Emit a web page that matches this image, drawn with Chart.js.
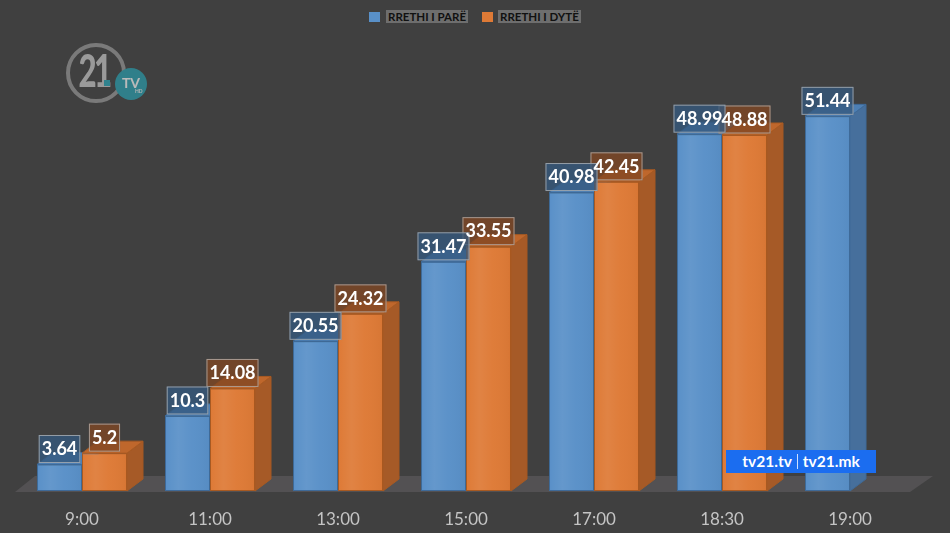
<!DOCTYPE html>
<html>
<head>
<meta charset="utf-8">
<script src="https://cdn.jsdelivr.net/npm/chart.js@4.4.1/dist/chart.umd.min.js"></script>
<style>
  html, body { margin: 0; padding: 0; background: #404040; }
  #wrap { position: relative; width: 950px; height: 533px; overflow: hidden; background: #404040; }
  #chart { position: absolute; left: 0; top: 0; }
  .legend { position: absolute; top: 10px; left: 0; width: 950px; height: 14px; font: bold 11.5px Lato, sans-serif; color: #111; }
  .legend .sw { position: absolute; top: 2px; width: 11px; height: 10px; }
  .legend .tx { position: absolute; top: 0; height: 13px; line-height: 14px; background: #6e6e6e; padding: 0 2px; white-space: nowrap; }
  .logo { position: absolute; left: 0; top: 0; opacity: 0.75; }
  .logo .ring { position: absolute; left: 66px; top: 43px; width: 52px; height: 52px; border: 4px solid #8e8e8e; border-radius: 50%; }
  .logo .num { position: absolute; left: 62px; top: 42px; width: 64px; text-align: center; font: 900 46px Lato, sans-serif; letter-spacing: -4px; color: #b9b9b9; transform: scaleX(0.68); }
  .logo .dot { position: absolute; left: 104px; top: 80px; width: 6px; height: 6px; background: #2d9aa8; }
  .logo .tv { position: absolute; left: 115px; top: 68px; width: 32px; height: 32px; border-radius: 50%; background: #2b95a3; color: #e3e3e3; font: bold 14px Lato, sans-serif; text-align: center; line-height: 30px; }
  .logo .hd { position: absolute; left: 135px; top: 88px; font: bold 5px Lato, sans-serif; color: #ddd; }
  .mark { position: absolute; left: 726px; top: 450px; width: 150px; height: 23px; background: #1b6df0; color: #fff; font: bold 15.5px Lato, sans-serif; line-height: 23px; text-align: center; }
  .mark span { display: inline-block; width: 1px; height: 15px; background: #cfe0ff; vertical-align: -2px; margin: 0 5px; }
</style>
</head>
<body>
<div id="wrap">
  <canvas id="chart" width="950" height="533"></canvas>
  <div class="logo">
    <div class="ring"></div>
    <div class="num">21</div>
    <div class="dot"></div>
    <div class="tv">TV</div>
    <div class="hd">HD</div>
  </div>
  <div class="legend" id="legend"></div>
  <div class="mark">tv21.tv<span></span>tv21.mk</div>
</div>
<script>
// Chart data
const categories = ["9:00", "11:00", "13:00", "15:00", "17:00", "18:30", "19:00"]
const seriesNames = ["RRETHI I PARË", "RRETHI I DYTË"]
const firstRound = [3.64, 10.3, 20.55, 31.47, 40.98, 48.99, 51.44]
const secondRound = [5.2, 14.08, 24.32, 33.55, 42.45, 48.88, null]

// Colours per series: front, side, top, border, label box
const palette = [
  { front: "#5990c8", side: "#466f9c", top: "#4d7fb4", border: "#3f6a98", box: "rgba(52,88,126,0.78)" },
  { front: "#de7a36", side: "#a65a27", top: "#bf672c", border: "#a85a22", box: "rgba(128,70,34,0.78)" },
]

const DX = 16
const DY = 12

// Legend (HTML)
const legendEl = document.getElementById("legend")
const legendPos = [{ sw: 369, tx: 386 }, { sw: 482, tx: 498 }]
seriesNames.forEach((name, i) => {
  const sw = document.createElement("div")
  sw.className = "sw"
  sw.style.left = legendPos[i].sw + "px"
  sw.style.background = palette[i].front
  const tx = document.createElement("div")
  tx.className = "tx"
  tx.style.left = legendPos[i].tx + "px"
  tx.textContent = name
  legendEl.appendChild(sw)
  legendEl.appendChild(tx)
})

function poly(ctx, pts, fill, stroke) {
  ctx.beginPath()
  ctx.moveTo(pts[0][0], pts[0][1])
  for (let i = 1; i < pts.length; i++) ctx.lineTo(pts[i][0], pts[i][1])
  ctx.closePath()
  ctx.fillStyle = fill
  ctx.fill()
  if (stroke) {
    ctx.strokeStyle = stroke
    ctx.lineWidth = 1
    ctx.stroke()
  }
}

// Floor under the bars
const floorPlugin = {
  id: "floor",
  beforeDatasetsDraw(chart) {
    const { ctx, chartArea } = chart
    const b = chartArea.bottom
    ctx.save()
    poly(ctx, [
      [chartArea.left - 3, b + 1],
      [chartArea.right - 4, b + 1],
      [chartArea.right + 19, b - 15],
      [chartArea.left + 17, b - 15],
    ], "#535153")
    ctx.restore()
  },
}

// 3D bars: redraw each bar front left to right, then its side and top,
// so the next bar in the group hides the previous one's side
const depthPlugin = {
  id: "depth",
  afterDatasetsDraw(chart) {
    const { ctx } = chart
    const metas = chart.data.datasets.map((ds, di) => chart.getDatasetMeta(di))
    ctx.save()
    categories.forEach((cat, i) => {
      metas.forEach((meta, di) => {
        const v = chart.data.datasets[di].data[i]
        if (v === null || v === undefined) return
        const bar = meta.data[i]
        const c = palette[di]
        bar.draw(ctx)
        const { x, y, base, width } = bar.getProps(["x", "y", "base", "width"], true)
        const x0 = x - width / 2
        const x1 = x + width / 2
        const g = ctx.createLinearGradient(x0, 0, x1, 0)
        g.addColorStop(0, "rgba(255,255,255,0)")
        g.addColorStop(0.3, "rgba(255,255,255,0.07)")
        g.addColorStop(0.6, "rgba(255,255,255,0.02)")
        g.addColorStop(1, "rgba(0,0,0,0.03)")
        ctx.fillStyle = g
        ctx.fillRect(x0 + 1, y + 1, width - 2, base - y - 2)
        poly(ctx, [[x1, y], [x1 + DX, y - DY], [x1 + DX, base - DY], [x1, base]], c.side, c.border)
        poly(ctx, [[x0, y], [x1, y], [x1 + DX, y - DY], [x0 + DX, y - DY]], c.top, c.border)
      })
    })
    ctx.restore()
  },
}

// Value boxes above the bars: all boxes first, then all texts on top
const labelPlugin = {
  id: "valueBoxes",
  afterDatasetsDraw(chart) {
    const { ctx } = chart
    ctx.save()
    ctx.font = "bold 18px Lato, sans-serif"
    ctx.textAlign = "center"
    ctx.textBaseline = "middle"
    const items = []
    chart.data.datasets.forEach((ds, di) => {
      const meta = chart.getDatasetMeta(di)
      meta.data.forEach((bar, i) => {
        const v = ds.data[i]
        if (v === null || v === undefined) return
        const { x, y } = bar.getProps(["x", "y"], true)
        const text = String(v)
        const w = ctx.measureText(text).width + 6
        const h = 28
        items.push({ text, x, bx: x - w / 2, by: y - 1.5 - h, w, h, di })
      })
    })
    items.slice().reverse().forEach((it) => {
      ctx.fillStyle = palette[it.di].box
      ctx.fillRect(it.bx, it.by, it.w, it.h)
      ctx.strokeStyle = "rgba(190,190,190,0.7)"
      ctx.lineWidth = 1
      ctx.strokeRect(it.bx + 0.5, it.by + 0.5, it.w - 1, it.h - 1)
    })
    ctx.fillStyle = "#ffffff"
    items.forEach((it) => ctx.fillText(it.text, it.x, it.by + it.h / 2 + 0.5))
    ctx.restore()
  },
}

new Chart(document.getElementById("chart"), {
  type: "bar",
  data: {
    labels: categories,
    datasets: [
      {
        label: seriesNames[0],
        data: firstRound,
        backgroundColor: palette[0].front,
        borderColor: palette[0].border,
        borderWidth: 1,
        borderSkipped: false,
      },
      {
        label: seriesNames[1],
        data: secondRound,
        backgroundColor: palette[1].front,
        borderColor: palette[1].border,
        borderWidth: 1,
        borderSkipped: false,
      },
    ],
  },
  options: {
    responsive: false,
    animation: false,
    events: [],
    layout: { padding: { left: 18, right: 36, top: 54, bottom: 0 } },
    datasets: { bar: { categoryPercentage: 0.703, barPercentage: 1 } },
    plugins: {
      legend: { display: false },
      tooltip: { enabled: false },
    },
    scales: {
      x: {
        grid: { display: false, drawTicks: false },
        border: { display: false },
        ticks: {
          color: "#c4c4c4",
          padding: 18,
          font: { family: "Lato", size: 17 },
        },
        afterFit: (s) => { s.height = 42 },
      },
      y: {
        display: false,
        min: 0,
        max: 60,
      },
    },
  },
  plugins: [floorPlugin, depthPlugin, labelPlugin],
})
</script>
</body>
</html>
